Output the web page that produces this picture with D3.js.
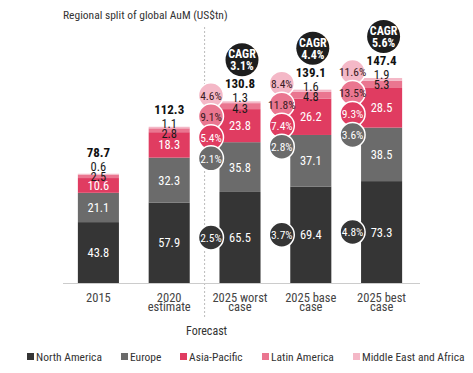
<!DOCTYPE html>
<html><head><meta charset="utf-8">
<script src="https://cdn.jsdelivr.net/npm/d3@7"></script>
<style>
body{margin:0;background:#fff;}
text{font-family:"Roboto Condensed","Roboto",sans-serif;}
</style></head>
<body><svg id="c" width="473" height="373"></svg>
<script>
const categories = ["2015", "2020 estimate", "2025 worst case", "2025 base case", "2025 best case"];
const catLines = [["2015"], ["2020", "estimate"], ["2025 worst", "case"], ["2025 base", "case"], ["2025 best", "case"]];
const regions = ["North America", "Europe", "Asia-Pacific", "Latin America", "Middle East and Africa"];
const northAmerica = [43.8, 57.9, 65.5, 69.4, 73.3];
const europe = [21.1, 32.3, 35.8, 37.1, 38.5];
const asiaPacific = [10.6, 18.3, 23.8, 26.2, 28.5];
const latinAmerica = [2.5, 2.8, 4.3, 4.8, 5.3];
const middleEastAfrica = [0.6, 1.1, 1.3, 1.6, 1.9];
const totals = [78.7, 112.3, 130.8, 139.1, 147.4];
const cagr = [null, null, "3.1%", "4.4%", "5.6%"];
// regional CAGR per forecast case: [NA, Europe, AP, LatAm, MEA]
const regionCagr = [null, null,
  ["2.5%", "2.1%", "5.4%", "9.1%", "4.6%"],
  ["3.7%", "2.8%", "7.4%", "11.8%", "8.4%"],
  ["4.8%", "3.6%", "9.3%", "13.5%", "11.6%"]];
const colors = ["#353535", "#6b6b6b", "#e03c61", "#ea7690", "#f4b8c7"];
const circleText = ["#fff", "#fff", "#fff", "#3a1a22", "#3a1a22"];

const series = [northAmerica, europe, asiaPacific, latinAmerica, middleEastAfrica];
const data = categories.map((c, i) => {
  const o = {cat: c};
  regions.forEach((r, j) => o[r] = series[j][i]);
  return o;
});
const stack = d3.stack().keys(regions)(data);

const svg = d3.select("#c");
const x = d3.scaleBand().domain(categories).range([63, 417]).paddingInner(0.42).paddingOuter(0.21);
const y = d3.scaleLinear().domain([0, 150]).range([283, 283 - 150 * 1.39]);

// title
svg.append("text").attr("x", 63).attr("y", 19).attr("font-size", 11.5).attr("fill", "#333")
  .text("Regional split of global AuM (US$tn)");

// forecast divider
const divX = (x(categories[1]) + x.bandwidth() + x(categories[2])) / 2;
svg.append("line").attr("x1", divX).attr("x2", divX).attr("y1", 27).attr("y2", 318)
  .attr("stroke", "#bbb").attr("stroke-dasharray", "2,2").attr("stroke-width", 1);
svg.append("text").attr("x", divX + 2).attr("y", 335).attr("text-anchor", "middle")
  .attr("font-size", 12).attr("fill", "#333").text("Forecast");

// bars
stack.forEach((s, j) => {
  svg.append("g").selectAll("rect").data(s).join("rect")
    .attr("x", d => x(d.data.cat)).attr("width", x.bandwidth())
    .attr("y", d => y(d[1])).attr("height", d => y(d[0]) - y(d[1]))
    .attr("fill", colors[j]);
});

// baseline axis
svg.append("line").attr("x1", 63).attr("x2", 420).attr("y1", y(0) + 0.5).attr("y2", y(0) + 0.5)
  .attr("stroke", "#ccc").attr("stroke-width", 1.2);

// x labels
const xl = svg.append("g");
categories.forEach((c, i) => {
  const t = xl.append("text").attr("x", x(c) + x.bandwidth() / 2).attr("y", 302)
    .attr("text-anchor", "middle").attr("font-size", 12.5).attr("fill", "#444");
  catLines[i].forEach((ln, k) => t.append("tspan").attr("x", x(c) + x.bandwidth() / 2)
    .attr("dy", k === 0 ? 0 : 9).text(ln));
});

// inner labels for big segments
[0, 1, 2].forEach(j => {
  svg.append("g").selectAll("text").data(stack[j]).join("text")
    .attr("x", d => x(d.data.cat) + x.bandwidth() / 2)
    .attr("y", d => (y(d[0]) + y(d[1])) / 2 + 4.5)
    .attr("text-anchor", "middle").attr("font-size", 12.5).attr("fill", "#fff")
    .text(d => d[1] - d[0] >= 10 ? (d.data[regions[j]]).toFixed(1) : "");
});

// small segment labels & totals
categories.forEach((c, i) => {
  const cx = x(c) + x.bandwidth() / 2;
  const top = y(stack[4][i][1]);
  const meaY = i === 0 ? top - 3 : top + 1;
  svg.append("text").attr("x", cx).attr("y", meaY).attr("text-anchor", "middle")
    .attr("font-size", 12.5).attr("fill", "#1a1a1a").text(middleEastAfrica[i].toFixed(1));
  svg.append("text").attr("x", cx).attr("y", meaY + 10.5).attr("text-anchor", "middle")
    .attr("font-size", 12.5).attr("fill", "#1a1a1a").text(latinAmerica[i].toFixed(1));
  const totY = meaY - 14;
  svg.append("text").attr("x", cx).attr("y", totY).attr("text-anchor", "middle")
    .attr("font-size", 13).attr("font-weight", "bold").attr("fill", "#111").text(totals[i].toFixed(1));
  if (cagr[i]) {
    const cy = totY - 28.5;
    svg.append("circle").attr("cx", cx + 2).attr("cy", cy).attr("r", 16.5).attr("fill", "#1e1e1e");
    svg.append("text").attr("x", cx + 2).attr("y", cy - 1.5).attr("text-anchor", "middle")
      .attr("font-size", 12).attr("font-weight", "bold").attr("fill", "#fff").text("CAGR");
    svg.append("text").attr("x", cx + 2).attr("y", cy + 10.5).attr("text-anchor", "middle")
      .attr("font-size", 12).attr("font-weight", "bold").attr("fill", "#fff").text(cagr[i]);
  }
  if (regionCagr[i]) {
    const ccx = x(c) - 8.5;
    // NA at its segment middle; Europe, AP, LatAm, MEA stacked upward from near the bar top
    const cys = [(y(0) + y(northAmerica[i])) / 2, top + 57, top + 36, top + 15, top - 6];
    [4, 3, 2, 1, 0].forEach(j => {
      svg.append("circle").attr("cx", ccx).attr("cy", cys[j]).attr("r", 12.5)
        .attr("fill", colors[j]).attr("stroke", "#fff").attr("stroke-width", 1.5);
      svg.append("text").attr("x", ccx).attr("y", cys[j] + 4.2).attr("text-anchor", "middle")
        .attr("font-size", 11.5).attr("fill", circleText[j]).text(regionCagr[i][j]);
    });
  }
});

// legend
const legX = [27, 121, 180, 262, 353];
regions.forEach((r, j) => {
  svg.append("rect").attr("x", legX[j]).attr("y", 353).attr("width", 7).attr("height", 7).attr("fill", colors[j]);
  svg.append("text").attr("x", legX[j] + 9).attr("y", 361).attr("font-size", 11.5).attr("fill", "#333").text(r);
});
</script></body></html>
